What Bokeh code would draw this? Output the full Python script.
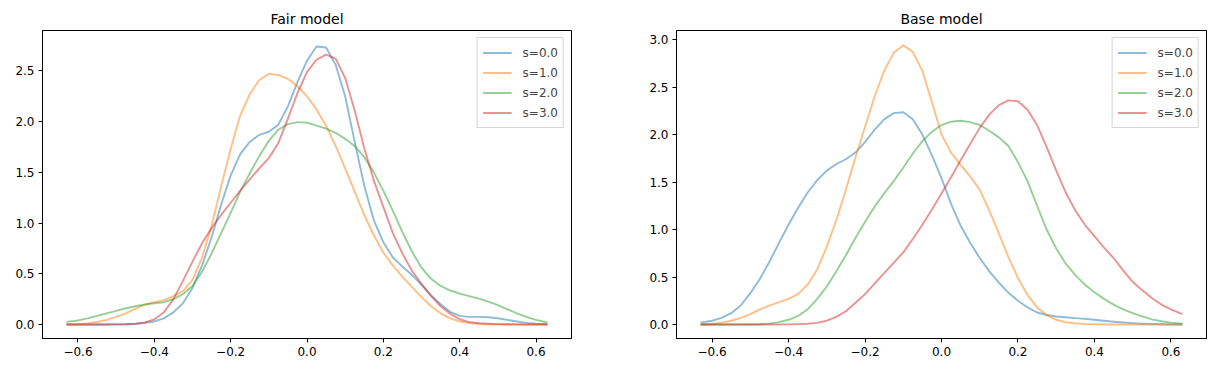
from bokeh.plotting import figure
from bokeh.layouts import row
from bokeh.models import Range1d, FixedTicker, CustomJSTickFormatter
from bokeh.embed import file_html
from bokeh.resources import INLINE

# ---- data ----
X = [-0.63, -0.6, -0.575, -0.55, -0.525, -0.5, -0.475, -0.45, -0.425, -0.4,
     -0.375, -0.35, -0.325, -0.3, -0.275, -0.25, -0.225, -0.2, -0.175, -0.15,
     -0.125, -0.1, -0.075, -0.05, -0.025, 0.0, 0.025, 0.05, 0.075, 0.1,
     0.125, 0.15, 0.175, 0.2, 0.225, 0.25, 0.275, 0.3, 0.325, 0.35,
     0.375, 0.4, 0.425, 0.45, 0.475, 0.5, 0.525, 0.55, 0.575, 0.6, 0.63]

labels = ["s=0.0", "s=1.0", "s=2.0", "s=3.0"]

fair_s0 = [0.0, 0.0, 0.0, 0.0, 0.0, 0.001, 0.003, 0.008, 0.016, 0.03,
           0.06, 0.12, 0.21, 0.36, 0.58, 0.86, 1.18, 1.47, 1.68, 1.8,
           1.87, 1.9, 1.97, 2.15, 2.39, 2.6, 2.74, 2.73, 2.56, 2.25,
           1.8, 1.37, 1.03, 0.81, 0.66, 0.57, 0.49, 0.39, 0.29, 0.20,
           0.125, 0.085, 0.075, 0.075, 0.072, 0.062, 0.045, 0.03, 0.016, 0.008, 0.003]
fair_s1 = [0.0, 0.002, 0.01, 0.025, 0.045, 0.075, 0.11, 0.155, 0.195, 0.22,
           0.24, 0.28, 0.33, 0.44, 0.66, 0.97, 1.36, 1.73, 2.06, 2.27,
           2.41, 2.47, 2.46, 2.42, 2.35, 2.25, 2.12, 1.96, 1.76, 1.54,
           1.31, 1.08, 0.88, 0.71, 0.58, 0.47, 0.37, 0.27, 0.18, 0.11,
           0.06, 0.03, 0.014, 0.006, 0.003, 0.001, 0.0, 0.0, 0.0, 0.0, 0.0]
fair_s2 = [0.026, 0.04, 0.06, 0.085, 0.11, 0.135, 0.16, 0.18, 0.197, 0.21,
           0.22, 0.25, 0.3, 0.38, 0.52, 0.7, 0.9, 1.1, 1.31, 1.49,
           1.66, 1.81, 1.92, 1.975, 1.995, 1.99, 1.96, 1.93, 1.89, 1.83,
           1.76, 1.65, 1.5, 1.32, 1.12, 0.91, 0.72, 0.56, 0.45, 0.38,
           0.335, 0.305, 0.28, 0.255, 0.225, 0.19, 0.15, 0.11, 0.075, 0.045, 0.02]
fair_s3 = [0.0, 0.0, 0.0, 0.0, 0.0, 0.001, 0.002, 0.006, 0.02, 0.05,
           0.12, 0.25, 0.43, 0.62, 0.8, 0.95, 1.08, 1.2, 1.32, 1.43,
           1.54, 1.64, 1.79, 2.03, 2.28, 2.49, 2.61, 2.66, 2.62, 2.43,
           2.11, 1.74, 1.42, 1.16, 0.9, 0.7, 0.53, 0.40, 0.28, 0.18,
           0.105, 0.052, 0.024, 0.012, 0.007, 0.004, 0.002, 0.001, 0.0, 0.0, 0.0]

base_s0 = [0.02, 0.04, 0.07, 0.12, 0.2, 0.33, 0.48, 0.66, 0.86, 1.05,
           1.23, 1.39, 1.52, 1.62, 1.69, 1.74, 1.81, 1.92, 2.05, 2.16,
           2.225, 2.235, 2.16, 2.0, 1.78, 1.54, 1.27, 1.04, 0.86, 0.7,
           0.56, 0.44, 0.335, 0.25, 0.18, 0.127, 0.1, 0.085, 0.076, 0.068,
           0.06, 0.05, 0.04, 0.03, 0.022, 0.015, 0.009, 0.005, 0.003, 0.001, 0.0]
base_s1 = [0.0, 0.005, 0.02, 0.04, 0.07, 0.11, 0.16, 0.2, 0.235, 0.27,
           0.32, 0.42, 0.58, 0.82, 1.1, 1.42, 1.76, 2.08, 2.4, 2.67,
           2.86, 2.94, 2.87, 2.67, 2.34, 2.0, 1.81, 1.68, 1.56, 1.42,
           1.2, 0.96, 0.71, 0.49, 0.31, 0.18, 0.1, 0.05, 0.024, 0.012,
           0.006, 0.003, 0.001, 0.0, 0.0, 0.0, 0.0, 0.0, 0.0, 0.0, 0.0]
base_s2 = [0.0, 0.0, 0.0, 0.0, 0.0, 0.001, 0.003, 0.01, 0.025, 0.05,
           0.09, 0.16, 0.27, 0.4, 0.56, 0.73, 0.91, 1.08, 1.24, 1.38,
           1.51, 1.65, 1.8, 1.93, 2.03, 2.1, 2.135, 2.145, 2.13, 2.1,
           2.04, 1.97, 1.88, 1.71, 1.51, 1.25, 1.0, 0.8, 0.64, 0.52,
           0.42, 0.34, 0.27, 0.21, 0.16, 0.12, 0.085, 0.055, 0.035, 0.02, 0.01]
base_s3 = [0.0, 0.0, 0.0, 0.0, 0.0, 0.0, 0.0, 0.0, 0.001, 0.002,
           0.004, 0.008, 0.018, 0.04, 0.08, 0.14, 0.23, 0.32, 0.43, 0.54,
           0.65, 0.76, 0.9, 1.05, 1.21, 1.38, 1.55, 1.73, 1.9, 2.07,
           2.21, 2.31, 2.36, 2.35, 2.26, 2.1, 1.87, 1.62, 1.39, 1.2,
           1.05, 0.93, 0.81, 0.7, 0.57, 0.45, 0.36, 0.28, 0.21, 0.16, 0.11]

x_ticks = [-0.6, -0.4, -0.2, 0.0, 0.2, 0.4, 0.6]
fair_y_ticks = [0.0, 0.5, 1.0, 1.5, 2.0, 2.5]
base_y_ticks = [0.0, 0.5, 1.0, 1.5, 2.0, 2.5, 3.0]

COLORS = ["#1f77b4", "#ff7f0e", "#2ca02c", "#d62728"]
FONT = "DejaVu Sans"
fmt_code = "return tick.toFixed(1).replace('-', '\u2212');"


def make_panel(title, series, yr, yticks, width, bl, br):
    p = figure(width=width, height=372, output_backend="svg", toolbar_location=None,
               x_range=Range1d(-0.693, 0.693), y_range=Range1d(*yr),
               min_border_left=bl, min_border_right=br, min_border_top=30,
               min_border_bottom=34)
    p.title.text = title
    p.title.align = "center"
    p.title.text_font = FONT
    p.title.text_font_size = "14px"
    p.title.text_font_style = "normal"
    p.title.text_color = "black"
    p.title.standoff = 7
    p.grid.visible = False
    p.outline_line_color = "black"
    p.outline_line_alpha = 1.0
    p.outline_line_width = 1
    for ax, ticks in ((p.xaxis[0], x_ticks), (p.yaxis[0], yticks)):
        ax.ticker = FixedTicker(ticks=ticks, minor_ticks=[])
        ax.formatter = CustomJSTickFormatter(code=fmt_code)
        ax.major_label_text_font = FONT
        ax.major_label_text_font_size = "12px"
        ax.major_label_text_color = "black"
        ax.axis_line_color = "black"
        ax.major_tick_line_color = "black"
        ax.major_tick_out = 4
        ax.major_tick_in = 0
        ax.minor_tick_line_color = None
        ax.major_label_standoff = 4
    for ys, c, lab in zip(series, COLORS, labels):
        p.line(X, ys, line_color=c, line_alpha=0.5, line_width=1.9, legend_label=lab,
               line_join="round")
    lg = p.legend[0]
    lg.location = "top_right"
    lg.label_text_font = FONT
    lg.label_text_font_size = "12px"
    lg.glyph_width = 29
    lg.glyph_height = 19
    lg.label_height = 19
    lg.label_standoff = 11
    lg.spacing = 1
    lg.padding = 5
    lg.margin = 7
    lg.border_line_color = "#cccccc"
    lg.border_line_alpha = 0.8
    lg.background_fill_alpha = 0.8
    return p


p1 = make_panel("Fair model", [fair_s0, fair_s1, fair_s2, fair_s3],
                (-0.138, 2.898), fair_y_ticks, 608, 42, 37)
p2 = make_panel("Base model", [base_s0, base_s1, base_s2, base_s3],
                (-0.147, 3.095), base_y_ticks, 606, 68, 8)

layout = row(p1, p2)
open("out.html", "w").write(file_html(layout, INLINE))
